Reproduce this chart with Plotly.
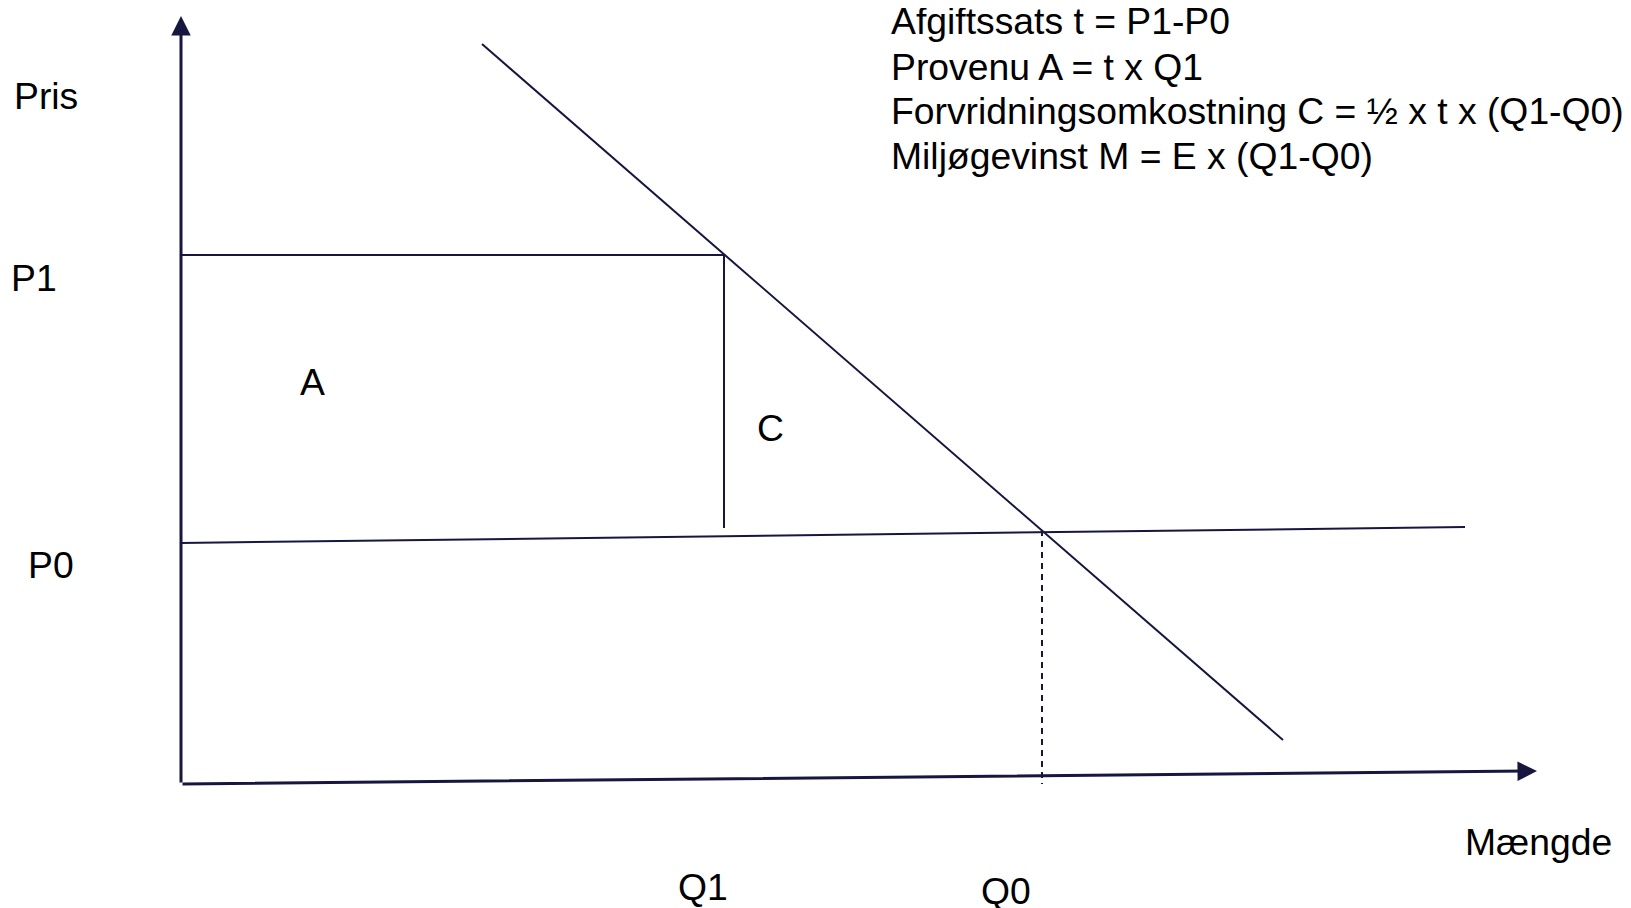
import plotly.graph_objects as go

# Diagram coordinates (x to the right, y upward, one unit = one pixel of the 1631x908 picture)
W, H = 1631, 908
PAGE_MARGIN = 8  # default <body> margin of the html page

origin = (181, 124)
y_axis_top = (181, 892)
x_axis_end = (1537, 137)

Q1 = 724
Q0 = 1042
P1 = 653
p0_line_x = [181, 1465]
p0_line_y = [365, 381]
demand_x = [482, 1283]
demand_y = [864, 168]
q1_bottom = 380
q0_top, q0_bottom = 378, 124

line_color = "#16163f"
font = dict(family="Liberation Sans, Arial, sans-serif", size=37.3, color="black")

labels = [
    ("Pris", 46, 812),
    ("P1", 34, 630),
    ("P0", 51, 343),
    ("A", 312, 526),
    ("C", 770, 480),
    ("Q1", 703, 21),
    ("Q0", 1006, 17),
    ("Mængde", 1538, 66),
]
info_lines = [
    "Afgiftssats t = P1-P0",
    "Provenu A = t x Q1",
    "Forvridningsomkostning C = ½ x t x (Q1-Q0)",
    "Miljøgevinst M = E x (Q1-Q0)",
]
info_x = 889
info_y = [887, 841, 797, 752]

fig = go.Figure()

def seg(xs, ys, dash=None, width=2):
    fig.add_trace(go.Scatter(x=xs, y=ys, mode="lines",
                             line=dict(color=line_color, width=width, dash=dash),
                             hoverinfo="skip", showlegend=False))

seg([origin[0], Q1], [P1, P1])
seg([Q1, Q1], [P1, q1_bottom])
seg(p0_line_x, p0_line_y)
seg(demand_x, demand_y)
seg([Q0, Q0], [q0_top, q0_bottom], dash="6px,5px")

annotations = []
for tip, tail in [(y_axis_top, origin), (x_axis_end, origin)]:
    annotations.append(dict(x=tip[0], y=tip[1], ax=tail[0], ay=tail[1],
                            xref="x", yref="y", axref="x", ayref="y",
                            showarrow=True, arrowhead=2, arrowsize=1.3,
                            arrowwidth=3, arrowcolor=line_color, text=""))
for t, x, y in labels:
    annotations.append(dict(x=x, y=y, xref="x", yref="y", text=t,
                            showarrow=False, font=font,
                            xanchor="center", yanchor="middle"))
for t, y in zip(info_lines, info_y):
    annotations.append(dict(x=info_x, y=y, xref="x", yref="y", text=t,
                            showarrow=False, font=font,
                            xanchor="left", yanchor="middle"))

# The figure sits at the page's default 8px body margin; shift the ranges so that
# diagram units coincide with window pixels.
fig.update_layout(
    width=W, height=H,
    margin=dict(l=0, r=0, t=0, b=0),
    paper_bgcolor="white", plot_bgcolor="white",
    xaxis=dict(range=[PAGE_MARGIN, PAGE_MARGIN + W], visible=False, fixedrange=True),
    yaxis=dict(range=[-PAGE_MARGIN, H - PAGE_MARGIN], visible=False, fixedrange=True),
    annotations=annotations,
)

fig.write_html("out.html")
